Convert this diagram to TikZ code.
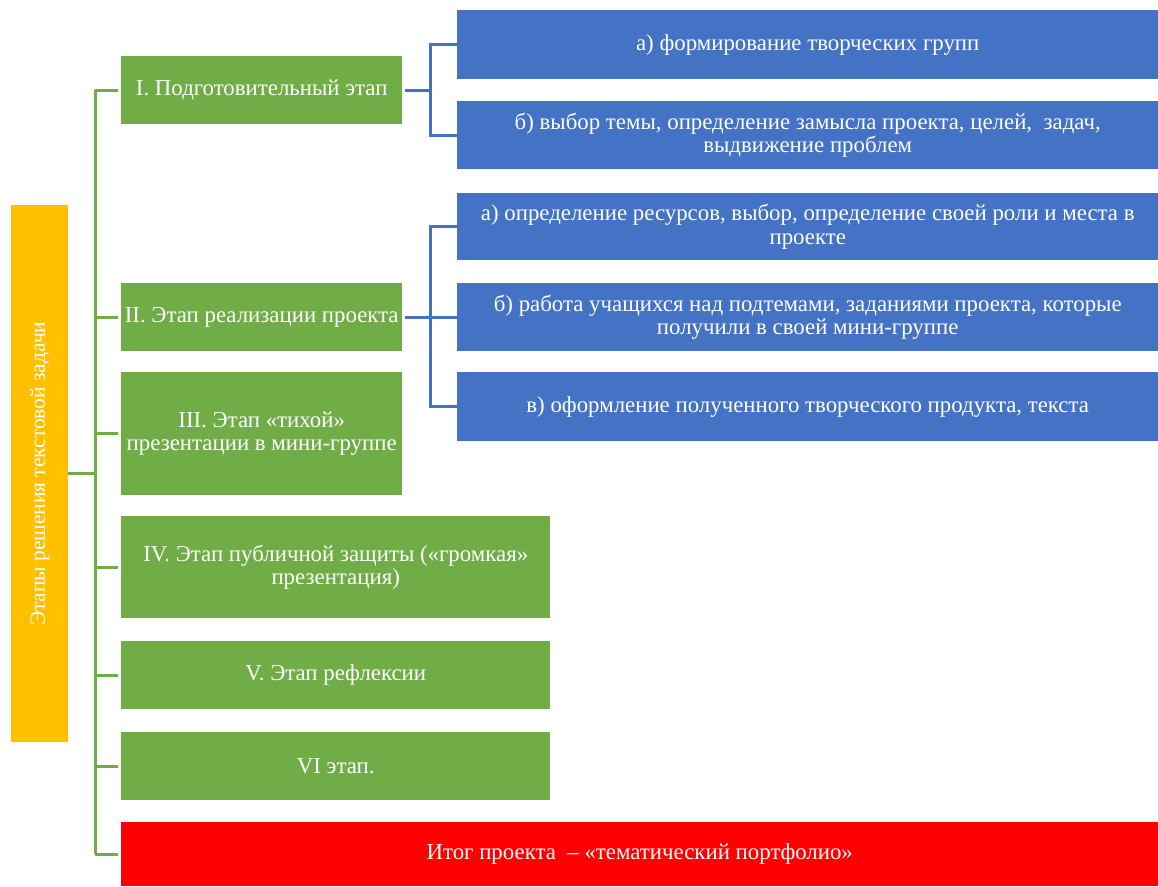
\documentclass[tikz,border=0pt]{standalone}
\usepackage{fontspec}
\setmainfont{Liberation Serif}
\usepackage{xcolor}
\usetikzlibrary{positioning}

\definecolor{stagegreen}{HTML}{70AD47}
\definecolor{taskblue}{HTML}{4472C4}
\definecolor{rootgold}{HTML}{FFC000}
\definecolor{resultred}{HTML}{FF0000}
\newcommand{\px}{0.03cm}

\begin{document}
\begin{tikzpicture}[x=0.03cm, y=-0.03cm,
  font=\fontsize{19.5}{20}\selectfont,
  box/.style={rectangle, anchor=north west, inner sep=0pt, text=white, align=center},
  stagebox/.style={box, fill=stagegreen, minimum width=281*\px, minimum height=68*\px},
  widestage/.style={stagebox, minimum width=429*\px},
  taskbox/.style={box, fill=taskblue, minimum width=701*\px, minimum height=68*\px},
  greenline/.style={draw=stagegreen, line width=3*\px},
  blueline/.style={draw=taskblue, line width=3*\px}]
  \useasboundingbox (0,0) rectangle (1158,886);

  % root
  \node (root) [box, fill=rootgold, minimum width=57*\px, minimum height=537*\px] at (11,205) {};
  \node [rotate=90, text=white, font=\fontsize{18.3}{20}\selectfont] at (root.center) {Этапы решения текстовой задачи};

  % stages
  \node (s1) [stagebox] at (121,56) {I. Подготовительный этап};
  \node (s2) [stagebox] at (121,283) {II. Этап реализации проекта};
  \node (s3) [stagebox, minimum height=123*\px] at (121,372) {III. Этап «тихой»\\ презентации в мини-группе};
  \node (s4) [widestage, minimum height=102*\px] at (121,516) {IV. Этап публичной защиты («громкая»\\ презентация)};
  \node (s5) [widestage] at (121,641) {V. Этап рефлексии};
  \node (s6) [widestage] at (121,732) {VI этап.};
  \node (res) [box, fill=resultred, minimum width=1037*\px, minimum height=64*\px] at (121,822) {Итог проекта~~– «тематический портфолио»};

  % tasks
  \node (s1a) [taskbox, minimum height=69*\px] at (457,10) {а) формирование творческих групп};
  \node (s1b) [taskbox] at (457,101) {б) выбор темы, определение замысла проекта, целей,~ задач,\\ выдвижение проблем};
  \node (s2a) [taskbox, minimum height=67*\px] at (457,193) {а) определение ресурсов, выбор, определение своей роли и места в\\ проекте};
  \node (s2b) [taskbox] at (457,283) {б) работа учащихся над подтемами, заданиями проекта, которые\\ получили в своей мини-группе};
  \node (s2c) [taskbox, minimum height=69*\px] at (457,372) {в) оформление полученного творческого продукта, текста};

  % green tree
  \coordinate (spine) at (95,0);
  \draw [greenline] (root.east) -- (root.east -| spine);
  \draw [greenline] (spine |- s1.west) -- (spine |- res.west);
  \foreach \s in {s1, s2, s3, s4, s5, s6, res}
    \draw [greenline] (spine |- \s.west) -- ([xshift=-3*\px]\s.west);

  % blue brackets
  \coordinate (fork) at (430,0);
  \draw [blueline] (s1.east) ++(3,0) -- (fork |- s1.east);
  \draw [blueline] (s1a.west) -| (fork |- s1b.west) -- (s1b.west);
  \draw [blueline] (s2.east) ++(3,0) -- (s2b.west);
  \draw [blueline] (s2a.west) -| (fork |- s2c.west) -- (s2c.west);
\end{tikzpicture}
\end{document}
